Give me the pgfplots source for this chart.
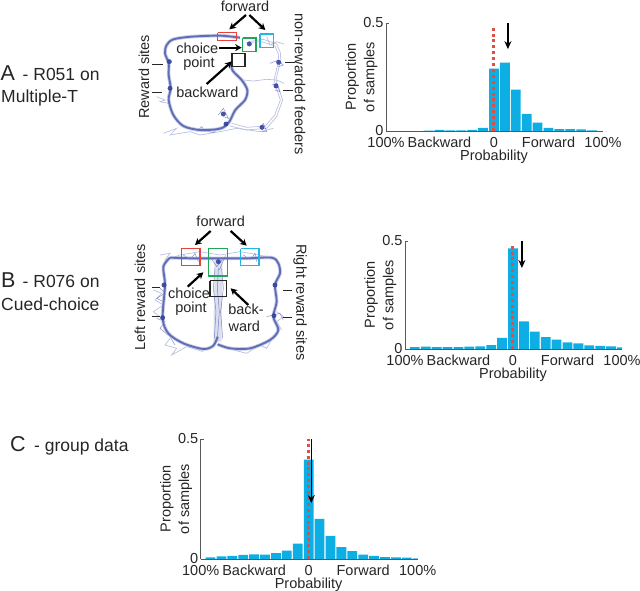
\documentclass[border=0pt]{standalone}
\usepackage{fontspec}
\setmainfont{Liberation Sans}
\usepackage{pgfplots}
\pgfplotsset{compat=1.18}
\usetikzlibrary{arrows.meta}

\definecolor{barblue}{HTML}{0CAEE3}
\definecolor{dotred}{HTML}{DC5048}
\definecolor{trk}{HTML}{4F5DAE}
\definecolor{trklight}{HTML}{B9C0E2}
\definecolor{trkdark}{HTML}{34429E}
\definecolor{boxred}{HTML}{E8403A}
\definecolor{boxgreen}{HTML}{1FA65A}
\definecolor{boxcyan}{HTML}{22B5E5}
\definecolor{ink}{HTML}{262626}

\newcommand{\labf}{\fontsize{14.5bp}{18.5bp}\selectfont}
\newcommand{\bigf}{\fontsize{21.5bp}{24bp}\selectfont}
\newcommand{\midf}{\fontsize{17.5bp}{20bp}\selectfont}

\pgfplotsset{
  histo/.style={
    scale only axis, width=217bp, height=108bp,
    xmin=-9.9, xmax=10, ymin=0, ymax=0.5,
    axis x line=bottom, axis y line=left,
    axis line style={-, line width=0.7bp, color=black!65},
    tick style={color=black!65, line width=0.6bp},
    tick align=inside,
    ytick={0,0.5}, yticklabels={0,0.5},
    xtick={-9.9,-5,0,5,10},
    xticklabels={100\%,Backward,0,Forward,100\%},
    x tick style={draw=none},
    major tick length=3bp,
    tick label style={font=\labf, text=ink},
    xticklabel style={yshift=0.5bp},
    yticklabel style={xshift=1bp},
    xlabel={Probability},
    xlabel style={font=\labf, text=ink, at={(axis description cs:0.4975,0)}, anchor=center, yshift=-26bp},
    ylabel={Proportion\\of samples},
    ylabel style={font=\labf, text=ink, align=center, at={(axis description cs:-0.113,0.5)}, anchor=center},
    ybar, bar width=9.8bp, bar shift=0pt,
  },
  barfill/.style={fill=barblue, draw=none},
  refline/.style={sharp plot, no markers, draw=dotred, fill=none, line width=3bp, dash pattern=on 3bp off 2.9bp},
  downarrow/.style={sharp plot, no markers, draw=black, fill=none, line width=1.4bp, -{Stealth[length=8bp,width=7bp]}},
  maze/.style={
    scale only axis, width=200bp, height=170bp,
    xmin=0, xmax=600, ymin=0, ymax=510, y dir=reverse,
    hide axis, clip=false,
  },
  band/.style={smooth, no markers, color=trk, line width=1.9bp, opacity=0.85},
  halo/.style={smooth, no markers, color=trklight, line width=3.6bp, opacity=0.75},
  wide/.style={smooth, no markers, color=trklight, line width=8bp, opacity=0.5},
  faint/.style={no markers, color=trklight, line width=0.7bp},
  fine/.style={no markers, color=trk, line width=0.5bp, opacity=0.7},
  blob/.style={only marks, mark=*, mark size=2.2bp, color=trkdark, opacity=0.9},
  box/.style={sharp plot, no markers, line width=1.3bp},
  fat/.style={sharp plot, no markers, color=black, line width=2.2bp, -{Stealth[length=6.5bp,width=7bp]}},
  tickmark/.style={sharp plot, no markers, color=ink, line width=0.9bp},
}

\begin{document}
\begin{tikzpicture}[x=1bp,y=1bp]
\useasboundingbox (0,0) rectangle (640bp,591bp);

% panel titles
\node[anchor=base west, inner sep=0pt, text=ink, font=\bigf] at (0.5bp,510.5bp) {A};
\node[anchor=base west, inner sep=0pt, text=ink, font=\midf] at (22.5bp,510.5bp) {- R051 on};
\node[anchor=base west, inner sep=0pt, text=ink, font=\midf] at (1bp,488.3bp) {Multiple-T};
\node[anchor=base west, inner sep=0pt, text=ink, font=\bigf] at (1bp,303bp) {B};
\node[anchor=base west, inner sep=0pt, text=ink, font=\midf] at (22.5bp,303bp) {- R076 on};
\node[anchor=base west, inner sep=0pt, text=ink, font=\midf] at (1bp,280.3bp) {Cued-choice};
\node[anchor=base west, inner sep=0pt, text=ink, font=\bigf] at (10bp,139.3bp) {C};
\node[anchor=base west, inner sep=0pt, text=ink, font=\midf] at (34bp,139.3bp) {- group data};

% A maze, coordinates in zoom pixels
\begin{axis}[maze, at={(120bp,421bp)}, anchor=south west]
\addplot[faint] coordinates {(385,125) (430,118) (470,132) (482,160) (480,188) (468,240) (488,300) (470,350) (440,385) (380,390) (330,378)};
\addplot[faint] coordinates {(378,128) (425,125) (465,138) (476,165) (474,190) (462,240) (481,300) (464,345) (436,378) (380,382) (335,370)};
\addplot[faint] coordinates {(370,240) (400,243) (440,238) (470,240) (492,250)};
\addplot[faint] coordinates {(440,110) (450,135) (470,125) (492,132)};
\addplot[faint] coordinates {(130,400) (170,385) (150,405) (210,395) (240,405) (300,395) (350,385) (420,395) (460,385)};
\addplot[faint] coordinates {(110,290) (135,300) (120,305) (145,310)};
\addplot[fine] coordinates {(450,190) (475,180) (490,195) (475,200)};
\addplot[fine] coordinates {(455,255) (470,250) (480,275) (465,270)};
\addplot[fine] coordinates {(420,385) (430,370) (440,395) (425,395)};
\addplot[fine] coordinates {(295,345) (310,325) (325,355) (310,350)};
\addplot[fine] coordinates {(230,395) (245,380) (255,392) (280,398) (300,380)};
\addplot[halo] coordinates {(360,113) (300,107) (215,110) (160,118) (140,135) (135,160) (146,190) (146,225) (152,265) (146,300) (160,345) (190,378) (240,390) (300,386) (326,368) (346,330) (375,300) (382,270) (365,240) (338,212) (332,185)};
\addplot[band] coordinates {(360,113) (300,107) (215,110) (160,118) (140,135) (135,160) (146,190) (146,225) (152,265) (146,300) (160,345) (190,378) (240,390) (300,386) (326,368) (346,330) (375,300) (382,270) (365,240) (338,212) (332,185)};
\addplot[blob] coordinates {(148,185) (150,265) (476,187) (468,258) (310,342) (426,382) (388,132) (318,372)};
\addplot[box, color=boxred] coordinates {(293,98) (350,98) (350,122) (293,122) (293,98)};
\addplot[box, color=boxgreen] coordinates {(368,114) (408,114) (408,154) (368,154) (368,114)};
\addplot[box, color=boxcyan] coordinates {(420,102) (460,102) (460,142) (420,142) (420,102)};
\addplot[box, color=ink] coordinates {(336,160) (375,160) (375,199) (336,199) (336,160)};
\addplot[fat] coordinates {(378,45) (328,88)};
\addplot[fat] coordinates {(388,45) (436,90)};
\addplot[fat] coordinates {(298,143) (365,143)};
\addplot[fat] coordinates {(260,252) (335,185)};
\addplot[tickmark] coordinates {(97,192) (130,192)};
\addplot[tickmark] coordinates {(97,277) (125,277)};
\addplot[tickmark] coordinates {(495,187) (525,187)};
\addplot[tickmark] coordinates {(490,272) (520,272)};
\node[font=\labf, text=ink] at (axis cs:375,18) {forward};
\node[font=\labf, text=ink] at (axis cs:232,146) {choice};
\node[font=\labf, text=ink] at (axis cs:237,192) {point};
\node[font=\labf, text=ink] at (axis cs:262,277) {backward};
\node[font=\labf, text=ink, rotate=90] at (axis cs:72,230) {Reward sites};
\node[font=\labf, text=ink, rotate=-90] at (axis cs:540,252) {non-rewarded feeders};
\end{axis}

% B maze
\begin{axis}[maze, at={(120bp,216bp)}, anchor=south west]
\addplot[wide] coordinates {(295,165) (295,240) (293,330) (293,410)};
\addplot[faint] coordinates {(120,150) (150,145) (135,165) (180,150) (240,140) (300,150) (360,140) (420,150) (470,165)};
\addplot[faint] coordinates {(100,255) (125,265) (105,285) (130,300) (100,320) (125,340)};
\addplot[faint] coordinates {(470,320) (490,335) (470,350) (485,375)};
\addplot[faint] coordinates {(150,400) (135,420) (170,430) (155,450) (200,425) (250,440)};
\addplot[faint] coordinates {(340,435) (380,445) (420,420) (440,430) (460,395)};
\addplot[fine] coordinates {(190,150) (210,165) (225,145) (235,170)};
\addplot[fine] coordinates {(370,150) (390,165) (405,145) (410,170)};
\addplot[fine] coordinates {(285,190) (280,250) (288,320) (283,400)};
\addplot[fine] coordinates {(305,190) (310,250) (302,320) (308,400)};
\addplot[fine] coordinates {(295,190) (292,250) (298,320) (292,400)};
\addplot[fine] coordinates {(270,155) (290,185) (315,155) (298,195)};
\addplot[fine] coordinates {(120,250) (135,265) (110,280) (130,290)};
\addplot[fine] coordinates {(110,340) (135,350) (120,370) (150,395) (165,420)};
\addplot[fine] coordinates {(440,335) (480,325) (490,345)};
\addplot[halo] coordinates {(150,158) (220,160) (295,160) (380,160) (455,158) (475,175) (480,205) (465,240) (470,290) (460,335) (475,375) (450,405) (390,430) (330,430) (293,418)};
\addplot[band] coordinates {(150,158) (220,160) (295,160) (380,160) (455,158) (475,175) (480,205) (465,240) (470,290) (460,335) (475,375) (450,405) (390,430) (330,430) (293,418)};
\addplot[halo] coordinates {(150,158) (130,185) (135,240) (128,340) (145,385) (190,415) (250,432) (280,422) (293,395)};
\addplot[band] coordinates {(150,158) (130,185) (135,240) (128,340) (145,385) (190,415) (250,432) (280,422) (293,395)};
\addplot[blob] coordinates {(132,240) (128,338) (465,240) (462,332) (295,170)};
\addplot[box, color=boxred] coordinates {(184,131) (240,131) (240,181) (184,181) (184,131)};
\addplot[box, color=boxgreen] coordinates {(265,131) (323,131) (323,213) (265,213) (265,131)};
\addplot[box, color=boxcyan] coordinates {(362,131) (417,131) (417,181) (362,181) (362,131)};
\addplot[box, color=ink] coordinates {(270,227) (320,227) (320,275) (270,275) (270,227)};
\addplot[fat] coordinates {(272,78) (225,120)};
\addplot[fat] coordinates {(332,78) (380,122)};
\addplot[fat] coordinates {(203,245) (250,202)};
\addplot[fat] coordinates {(385,300) (332,250)};
\addplot[tickmark] coordinates {(97,247) (120,247)};
\addplot[tickmark] coordinates {(97,333) (120,333)};
\addplot[tickmark] coordinates {(490,255) (515,255)};
\addplot[tickmark] coordinates {(490,338) (515,338)};
\node[font=\labf, text=ink] at (axis cs:302,50) {forward};
\node[font=\labf, text=ink] at (axis cs:207,265) {choice};
\node[font=\labf, text=ink] at (axis cs:213,312) {point};
\node[font=\labf, text=ink] at (axis cs:378,313) {back-};
\node[font=\labf, text=ink] at (axis cs:373,365) {ward};
\node[font=\labf, text=ink, rotate=90] at (axis cs:60,277) {Left reward sites};
\node[font=\labf, text=ink, rotate=-90] at (axis cs:540,292) {Right reward sites};
\end{axis}

% A histogram
\begin{axis}[histo, at={(386bp,460bp)}, anchor=south west]
\addplot[barfill] coordinates {(-6,0.002) (-5,0.005) (-4,0.003) (-3,0.003) (-2,0.005) (-1,0.015) (0,0.289) (1,0.316) (2,0.192) (3,0.079) (4,0.039) (5,0.014) (6,0.009) (7,0.009) (8,0.008) (9,0.003)};
\addplot[refline] coordinates {(0,0) (0,0.488)};
\addplot[downarrow] coordinates {(1.28,0.5) (1.28,0.379)};
\end{axis}

% B histogram
\begin{axis}[histo, at={(405bp,242bp)}, anchor=south west]
\addplot[barfill] coordinates {(-9,0.009) (-8,0.011) (-7,0.009) (-6,0.009) (-5,0.009) (-4,0.011) (-3,0.012) (-2,0.018) (-1,0.052) (0,0.466) (1,0.128) (2,0.081) (3,0.055) (4,0.043) (5,0.031) (6,0.026) (7,0.017) (8,0.014) (9,0.012) (10,0.008)};
\addplot[refline] coordinates {(0,0) (0,0.488)};
\addplot[downarrow] coordinates {(0.82,0.5) (0.82,0.375)};
\end{axis}

% C histogram
\begin{axis}[histo, height=120bp, at={(200.7bp,32bp)}, anchor=south west]
\addplot[barfill] coordinates {(-9,0.007) (-8,0.011) (-7,0.013) (-6,0.017) (-5,0.019) (-4,0.018) (-3,0.024) (-2,0.035) (-1,0.064) (0,0.414) (1,0.167) (2,0.096) (3,0.049) (4,0.033) (5,0.018) (6,0.013) (7,0.008) (8,0.007) (9,0.006) (10,0.003)};
\addplot[refline] coordinates {(0,0) (0,0.5)};
\addplot[downarrow] coordinates {(0.24,0.5) (0.24,0.233)};
\end{axis}
\end{tikzpicture}
\end{document}
